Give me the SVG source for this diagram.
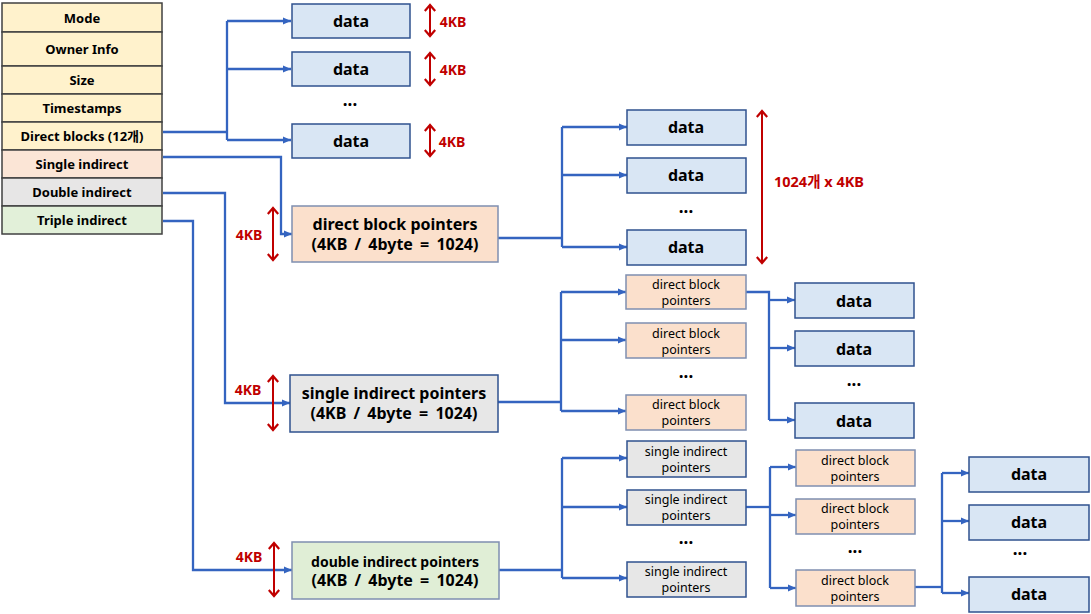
<svg xmlns="http://www.w3.org/2000/svg" width="1091" height="614" viewBox="0 0 1091 614">
<defs>
<marker id="ab" markerUnits="userSpaceOnUse" markerWidth="9" markerHeight="8" refX="8" refY="4" orient="auto"><path d="M0,0.5 L8,4 L0,7.5 Z" fill="#3464C0"/></marker>
<marker id="ar" markerUnits="userSpaceOnUse" markerWidth="12" markerHeight="12" refX="10" refY="6" orient="auto-start-reverse" viewBox="0 0 12 12"><path d="M4,0.8 L10,6 L4,11.2" fill="none" stroke="#C00000" stroke-width="2.2"/></marker>
<style>
text{font-family:"Noto Sans","Noto Sans CJK KR",sans-serif;text-anchor:middle;dominant-baseline:central;fill:#000}
.row{stroke:#404040;stroke-width:1.5}
.y{fill:#FFF2CC}.p{fill:#FBE5D6}.g{fill:#E7E6E6}.gr{fill:#E2F0D9}
.it{font-size:13px;font-weight:bold}
.d{fill:#D9E6F4;stroke:#2F528F;stroke-width:1.5}
.pb{fill:#FBE0CC;stroke:#7F8FB0;stroke-width:1.5}
.gb{fill:#E7E7E7;stroke:#2F528F;stroke-width:1.5}
.grb{fill:#E0EED6;stroke:#7F8FB0;stroke-width:1.5}
.dt{font-size:16px;font-weight:bold}
.bt{font-size:16px;font-weight:bold}
.b2{word-spacing:3px}
.st{font-size:12.5px}
.dots{font-size:17px;font-weight:bold}
.kb{font-size:14px;font-weight:bold;fill:#C00000}
.c path{fill:none;stroke:#3464C0;stroke-width:2.3}
.c .a{marker-end:url(#ab)}
.r line{stroke:#C00000;stroke-width:2;marker-start:url(#ar);marker-end:url(#ar)}
</style>
</defs>
<rect width="1091" height="614" fill="#fff"/>

<g id="inode">
<rect class="row y" x="2" y="3" width="160" height="29"/><text class="it" x="82" y="17.5">Mode</text>
<rect class="row y" x="2" y="32" width="160" height="34"/><text class="it" x="82" y="49">Owner Info</text>
<rect class="row y" x="2" y="66" width="160" height="28"/><text class="it" x="82" y="80">Size</text>
<rect class="row y" x="2" y="94" width="160" height="28"/><text class="it" x="82" y="108">Timestamps</text>
<rect class="row y" x="2" y="122" width="160" height="28"/><text class="it" x="82" y="136">Direct blocks (12개)</text>
<rect class="row p" x="2" y="150" width="160" height="28"/><text class="it" x="82" y="164">Single indirect</text>
<rect class="row g" x="2" y="178" width="160" height="28"/><text class="it" x="82" y="192">Double indirect</text>
<rect class="row gr" x="2" y="206" width="160" height="28"/><text class="it" x="82" y="220">Triple indirect</text>
</g>

<g id="connectors" class="c">
<path d="M163,132 H227"/>
<path d="M227,140 V21"/>
<path class="a" d="M227,21 H291"/>
<path class="a" d="M227,69 H291"/>
<path class="a" d="M227,140 H291"/>
<path class="a" d="M163,157 H281 V234 H292"/>
<path class="a" d="M163,193 H225 V403 H290"/>
<path class="a" d="M163,221 H193 V570 H292"/>
<path d="M498,238 H562"/>
<path d="M562,127 V247"/>
<path class="a" d="M562,127 H627"/>
<path class="a" d="M562,175 H627"/>
<path class="a" d="M562,247 H627"/>
<path d="M498,402 H561"/>
<path d="M561,292 V411"/>
<path class="a" d="M561,292 H626"/>
<path class="a" d="M561,340 H626"/>
<path class="a" d="M561,411 H626"/>
<path d="M746,292 H769 V420"/>
<path class="a" d="M769,300 H795"/>
<path class="a" d="M769,348 H795"/>
<path class="a" d="M769,420 H795"/>
<path d="M499,570 H562"/>
<path d="M562,458 V578"/>
<path class="a" d="M562,458 H627"/>
<path class="a" d="M562,507 H627"/>
<path class="a" d="M562,578 H627"/>
<path d="M746,507 H770"/>
<path d="M770,467 V588"/>
<path class="a" d="M770,467 H796"/>
<path class="a" d="M770,515 H796"/>
<path class="a" d="M770,588 H796"/>
<path d="M915,587 H942"/>
<path d="M942,473 V593"/>
<path class="a" d="M942,473 H969"/>
<path class="a" d="M942,521 H969"/>
<path class="a" d="M942,593 H969"/>
</g>

<g id="sizes" class="r">
<line x1="430" y1="5" x2="430" y2="36"/><text class="kb" x="453" y="21">4KB</text>
<line x1="430" y1="53" x2="430" y2="85"/><text class="kb" x="453" y="69">4KB</text>
<line x1="430" y1="125" x2="430" y2="156"/><text class="kb" x="452" y="141">4KB</text>
<line x1="762" y1="111" x2="762" y2="263"/><text class="kb" x="819" y="181" style="font-size:14.5px">1024개 x 4KB</text>
<line x1="273" y1="208" x2="273" y2="260"/><text class="kb" x="249" y="234">4KB</text>
<line x1="273" y1="376" x2="273" y2="430"/><text class="kb" x="248" y="389">4KB</text>
<line x1="274" y1="543" x2="274" y2="596"/><text class="kb" x="249" y="556">4KB</text>
</g>

<g id="direct-data">
<rect class="d" x="292" y="4" width="118" height="34"/><text class="dt" x="351" y="21">data</text>
<rect class="d" x="292" y="52" width="118" height="34"/><text class="dt" x="351" y="69">data</text>
<text class="dots" x="350" y="99">...</text>
<rect class="d" x="292" y="124" width="118" height="34"/><text class="dt" x="351" y="141">data</text>
</g>

<g id="direct-block-pointers">
<rect class="pb" x="292" y="206" width="206" height="56"/>
<text class="bt" x="395" y="224">direct block pointers</text>
<text class="bt b2" x="395" y="244">(4KB / 4byte = 1024)</text>
</g>

<g id="single-data">
<rect class="d" x="627" y="110" width="119" height="35"/><text class="dt" x="686" y="127">data</text>
<rect class="d" x="627" y="158" width="119" height="35"/><text class="dt" x="686" y="175">data</text>
<text class="dots" x="686" y="206">...</text>
<rect class="d" x="627" y="230" width="119" height="35"/><text class="dt" x="686" y="247">data</text>
</g>

<g id="single-indirect-pointers">
<rect class="gb" x="290" y="375" width="208" height="57"/>
<text class="bt" x="394" y="393">single indirect pointers</text>
<text class="bt b2" x="394" y="413">(4KB / 4byte = 1024)</text>
</g>

<g id="si-dbp">
<rect class="pb" x="626" y="275" width="120" height="34"/><text class="st" x="686" y="284">direct block</text><text class="st" x="686" y="300">pointers</text>
<rect class="pb" x="626" y="323" width="120" height="35"/><text class="st" x="686" y="333">direct block</text><text class="st" x="686" y="349">pointers</text>
<text class="dots" x="686" y="371">...</text>
<rect class="pb" x="626" y="395" width="120" height="35"/><text class="st" x="686" y="404">direct block</text><text class="st" x="686" y="420">pointers</text>
</g>

<g id="si-data">
<rect class="d" x="795" y="283" width="119" height="35"/><text class="dt" x="854" y="301">data</text>
<rect class="d" x="795" y="331" width="119" height="35"/><text class="dt" x="854" y="349">data</text>
<text class="dots" x="854" y="379">...</text>
<rect class="d" x="795" y="403" width="119" height="35"/><text class="dt" x="854" y="421">data</text>
</g>

<g id="double-indirect-pointers">
<rect class="grb" x="292" y="542" width="207" height="57"/>
<text class="bt" x="395" y="561" style="font-size:14px">double indirect pointers</text>
<text class="bt b2" x="395" y="580">(4KB / 4byte = 1024)</text>
</g>

<g id="di-sip">
<rect class="gb" x="627" y="441" width="119" height="36"/><text class="st" x="686" y="451">single indirect</text><text class="st" x="686" y="467">pointers</text>
<rect class="gb" x="627" y="490" width="119" height="35"/><text class="st" x="686" y="499">single indirect</text><text class="st" x="686" y="515">pointers</text>
<text class="dots" x="686" y="537">...</text>
<rect class="gb" x="627" y="562" width="119" height="35"/><text class="st" x="686" y="571">single indirect</text><text class="st" x="686" y="587">pointers</text>
</g>

<g id="di-dbp">
<rect class="pb" x="796" y="450" width="119" height="36"/><text class="st" x="855" y="460">direct block</text><text class="st" x="855" y="476">pointers</text>
<rect class="pb" x="796" y="499" width="119" height="35"/><text class="st" x="855" y="508">direct block</text><text class="st" x="855" y="524">pointers</text>
<text class="dots" x="855" y="546">...</text>
<rect class="pb" x="796" y="570" width="119" height="36"/><text class="st" x="855" y="580">direct block</text><text class="st" x="855" y="596">pointers</text>
</g>

<g id="di-data">
<rect class="d" x="969" y="457" width="120" height="35"/><text class="dt" x="1029" y="474">data</text>
<rect class="d" x="969" y="505" width="120" height="35"/><text class="dt" x="1029" y="522">data</text>
<text class="dots" x="1020" y="548">...</text>
<rect class="d" x="969" y="577" width="120" height="35"/><text class="dt" x="1029" y="594">data</text>
</g>
</svg>
